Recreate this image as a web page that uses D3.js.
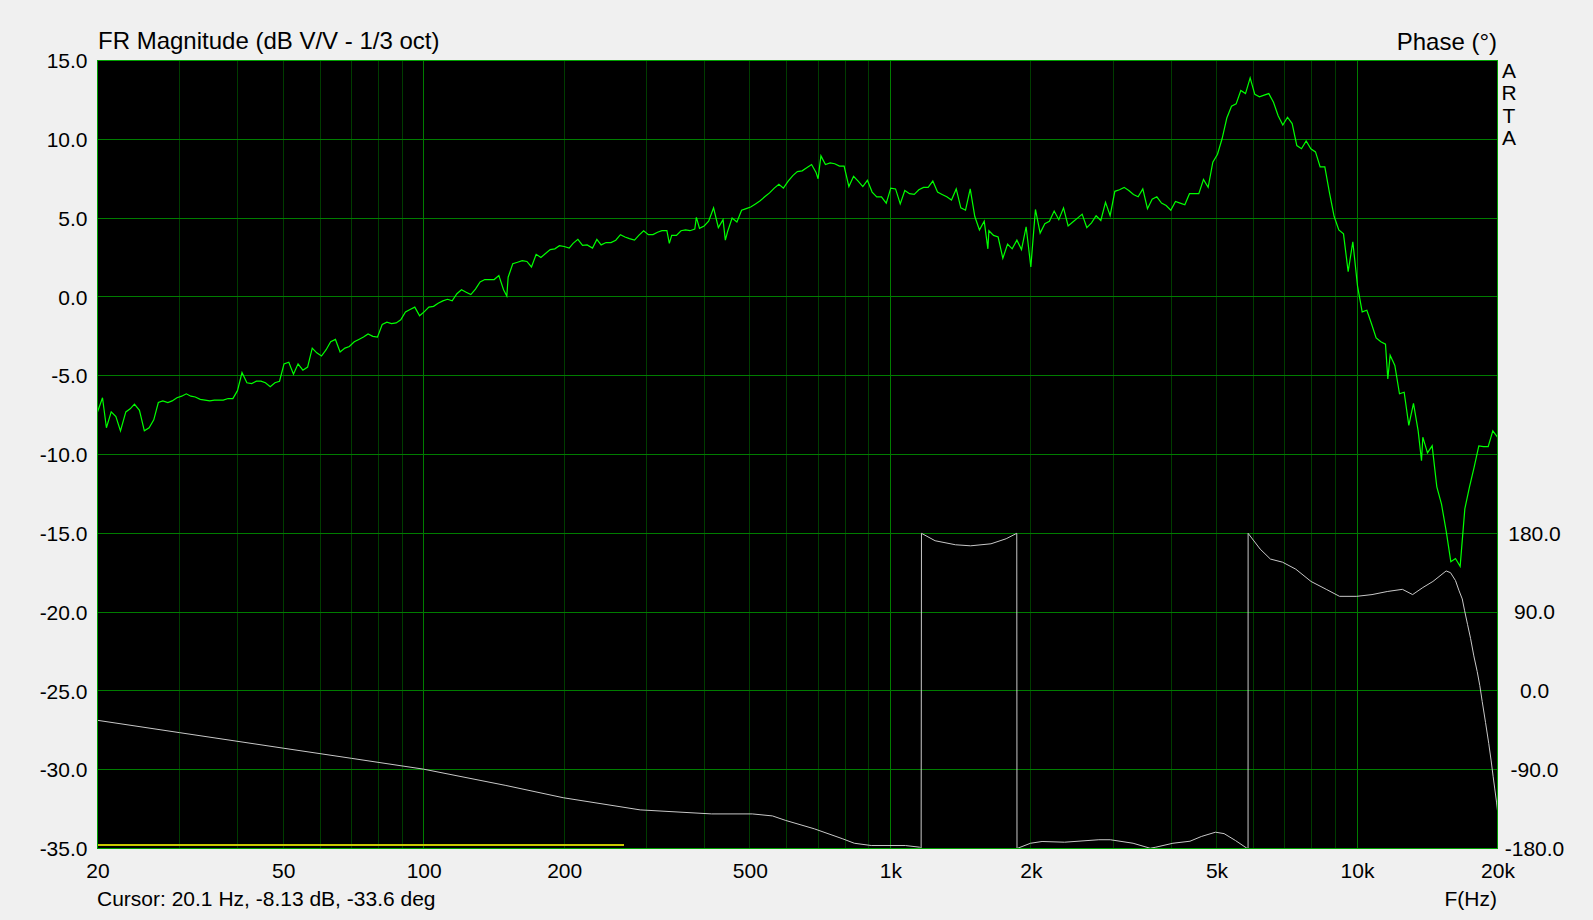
<!DOCTYPE html>
<html><head><meta charset="utf-8">
<script src="https://cdn.jsdelivr.net/npm/d3@7"></script>
<style>
html,body{margin:0;padding:0;background:#f0f0f0;}
svg{display:block;}
text{font-family:"Liberation Sans",Arial,sans-serif;fill:#000;}
</style></head><body>
<svg id="chart" width="1593" height="920"></svg>
<script>
// ---- data ----
const magFreqs = [
20.0,20.5,20.9,21.4,21.9,22.4,23.0,23.5,24.0,24.6,25.2,25.8,26.4,27.0,27.6,28.3,28.9,29.6,30.3,31.0,
31.7,32.4,33.2,34.0,34.8,35.6,36.4,37.2,38.1,39.0,39.9,40.8,41.8,42.8,43.8,44.8,45.8,46.9,48.0,49.1,
50.2,51.4,52.6,53.8,55.1,56.4,57.7,59.0,60.4,61.8,63.2,64.7,66.2,67.8,69.3,71.0,72.6,74.3,76.0,77.8,
79.6,81.5,83.4,85.3,87.3,89.3,91.4,93.5,95.7,98.0,100.2,102.6,105.0,107.4,109.9,112.5,115.1,117.8,120.5,123.3,
126.2,129.1,132.1,135.2,138.4,141.6,144.9,148.3,150.7,151.7,155.2,158.9,162.6,166.4,170.2,174.2,178.3,182.4,186.7,191.0,
195.4,200,205,209,214,219,224,230,235,240,246,252,258,264,270,276,283,289,296,303,
310,317,324,332,336,340,348,356,364,372,381,384,390,399,408,418,428,438,443,448,
458,469,480,491,502,514,526,538,551,564,577,590,604,618,632,647,662,678,693,700,
710,726,743,760,778,796,815,834,853,873,893,914,935,957,980,1002,1026,1050,1074,1099,
1125,1151,1178,1205,1233,1262,1291,1321,1352,1384,1416,1449,1483,1517,1552,1589,1618,1626,1664,1702,
1742,1783,1824,1867,1910,1954,2000,2046,2094,2143,2192,2244,2296,2350,2404,2460,2518,2576,2636,2698,
2760,2825,2891,2958,3027,3097,3170,3243,3319,3396,3475,3556,3639,3724,3811,3899,3990,4083,4178,4276,
4375,4477,4581,4688,4797,4909,5024,5140,5260,5383,5508,5636,5768,5902,6039,6180,6325,6471,6622,6776,
6934,7096,7261,7430,7603,7780,7962,8147,8337,8531,8730,8933,9141,9354,9572,9795,10024,10257,10496,10740,
10990,11247,11508,11641,11776,12051,12331,12619,12912,13213,13521,13746,13836,14158,14488,14825,15171,15524,15886,16255,
16634,17022,17418,17824,18239,18664,19099,19544,20000];
const magDb = [
-7.3,-6.4,-8.3,-7.3,-7.6,-8.5,-7.3,-7.1,-6.8,-7.2,-8.5,-8.3,-7.8,-6.7,-6.6,-6.7,-6.6,-6.4,-6.3,-6.15,
-6.3,-6.35,-6.5,-6.55,-6.6,-6.55,-6.55,-6.55,-6.45,-6.45,-5.95,-4.8,-5.45,-5.5,-5.35,-5.35,-5.45,-5.7,-5.45,-5.35,
-4.25,-4.15,-4.9,-4.25,-4.65,-4.45,-3.25,-3.55,-3.75,-3.35,-2.85,-2.7,-3.5,-3.25,-3.15,-2.85,-2.7,-2.55,-2.35,-2.5,
-2.55,-1.75,-1.6,-1.7,-1.65,-1.45,-0.95,-0.8,-0.65,-1.2,-0.95,-0.65,-0.6,-0.4,-0.25,-0.15,-0.25,0.2,0.45,0.3,
0.15,0.5,0.95,1.1,1.1,1.1,1.35,0.45,0.05,1.25,2.1,2.2,2.3,2.25,1.9,2.7,2.5,2.75,3.0,3.05,
3.25,3.2,3.1,3.4,3.65,3.27,3.3,3.1,3.65,3.3,3.45,3.45,3.6,3.95,3.8,3.7,3.6,3.9,4.2,3.95,
3.95,4.1,4.2,4.2,3.4,3.9,3.9,4.2,4.25,4.2,4.3,5.05,4.35,4.5,4.8,5.65,4.4,4.9,3.6,4.15,
5.0,4.75,5.5,5.6,5.7,5.9,6.1,6.35,6.6,6.9,7.15,6.9,7.35,7.7,7.95,8.0,8.2,8.4,7.9,7.5,
8.95,8.4,8.5,8.45,8.3,8.3,7.0,7.65,7.35,7.0,7.4,6.65,6.35,6.35,5.95,6.9,6.85,5.9,6.75,6.55,
6.5,6.8,6.95,6.95,7.35,6.65,6.5,6.35,6.15,6.85,5.65,5.5,6.85,5.1,4.25,4.8,3.05,4.2,3.9,3.8,
2.45,3.35,3.05,3.6,3.0,4.45,1.9,5.55,4.05,4.65,4.8,5.45,4.9,5.65,4.5,4.75,5.0,5.25,4.4,4.7,
5.15,4.85,6.0,5.15,6.7,6.8,6.95,6.75,6.5,6.35,6.85,5.6,6.2,6.35,5.95,5.8,5.5,6.05,5.95,5.85,
6.55,6.55,6.55,7.45,6.95,8.55,9.05,10.05,11.35,12.1,12.25,13.1,12.9,13.9,12.85,12.7,12.8,12.9,12.35,11.5,
10.9,11.4,11.0,9.6,9.4,9.9,9.4,9.2,8.25,8.25,6.6,5.1,4.25,4.0,1.6,3.5,0.7,-0.95,-0.85,-1.7,
-2.6,-2.85,-3.0,-5.2,-3.7,-4.35,-6.15,-6.05,-8.15,-6.75,-8.5,-10.4,-8.9,-9.9,-9.45,-12.05,-13.15,-14.85,-16.8,-16.6,
-17.1,-13.45,-12.05,-10.8,-9.45,-9.5,-9.5,-8.5,-8.9];

const phaseFreqs = [20,30,50,70,100,150,199,291,414,506,559,597,687,791,837,910,1077,1155,1164,
1166,1247,1379,1486,1643,1771,1866,
1868,1997,2114,2362,2798,2960,3312,3604,3706,4032,4386,4638,4973,5190,5490,5808,5841,
5843,6200,6522,6926,7393,7970,8591,9172,9986,10768,11606,12510,13156,13834,14542,15523,15862,
16257,16528,16808,16998,17250,17510,17794,18096,18330,18546,18852,19154,19386,19576,19734,19904,20000];
const phaseDeg = [-33.6,-47.7,-65.4,-77,-89.4,-108,-122,-135.9,-140.5,-140.5,-142.8,-148,-157.5,-169,-174,-176.6,-176.6,-178.5,-180,
180,171.5,166.9,165.7,168,173.8,180,
-180,-174,-172,-172.8,-170,-170,-174,-179.7,-178.5,-174,-171.7,-166.3,-161.4,-163,-170.9,-179.7,-180,
180,162,150.6,147,139,125,116,108,108,110,113.5,116,110,118,125,137,135,
126,115,105,92,76,60,40,22,6,-12,-36,-60,-80,-98,-112,-127,-137];

const windowFreqs = [20, 269];
const windowLevel = -34.8;

const xMinorGrid = [30,40,50,60,70,80,90,200,300,400,500,600,700,800,900,2000,3000,4000,5000,6000,7000,8000,9000];
const xMajorGrid = [100,1000,10000];
const xTickValues = [20,50,100,200,500,1000,2000,5000,10000,20000];
const xTickLabels = ["20","50","100","200","500","1k","2k","5k","10k","20k"];
const yTickValues = [15,10,5,0,-5,-10,-15,-20,-25,-30,-35];
const phaseTickValues = [180,90,0,-90,-180];
const titleLeft = "FR Magnitude (dB V/V - 1/3 oct)";
const titleRight = "Phase (°)";
const brand = ["A","R","T","A"];
const cursorText = "Cursor: 20.1 Hz, -8.13 dB, -33.6 deg";
const xAxisTitle = "F(Hz)";

// ---- layout ----
const L = 97.5, R = 1497.5, T = 60.5, B = 848.5;
const svg = d3.select("#chart");
const x = d3.scaleLog().domain([20, 20000]).range([L, R]);
const y = d3.scaleLinear().domain([-35, 15]).range([B, T]);
const yPh = d3.scaleLinear().domain([-180, 180]).range([B, y(-15)]);
const snap = v => Math.round(v - 0.5) + 0.5;

svg.append("rect").attr("x", L - 0.5).attr("y", T - 0.5).attr("width", R - L + 1).attr("height", B - T + 1).attr("fill", "#000");

const grid = svg.append("g").attr("shape-rendering", "crispEdges");
grid.selectAll("line.minor").data(xMinorGrid).join("line").attr("class", "minor")
  .attr("x1", d => snap(x(d))).attr("x2", d => snap(x(d))).attr("y1", T).attr("y2", B)
  .attr("stroke", "#003c00").attr("stroke-width", 1);
grid.selectAll("line.major").data(xMajorGrid).join("line").attr("class", "major")
  .attr("x1", d => snap(x(d))).attr("x2", d => snap(x(d))).attr("y1", T).attr("y2", B)
  .attr("stroke", "#007c00").attr("stroke-width", 1);
grid.selectAll("line.h").data(yTickValues.slice(1, -1)).join("line").attr("class", "h")
  .attr("x1", L).attr("x2", R).attr("y1", d => snap(y(d))).attr("y2", d => snap(y(d)))
  .attr("stroke", "#007c00").attr("stroke-width", 1);

const clip = svg.append("clipPath").attr("id", "plotclip").append("rect")
  .attr("x", L - 0.5).attr("y", T - 0.5).attr("width", R - L + 1).attr("height", B - T + 1);
const plot = svg.append("g").attr("clip-path", "url(#plotclip)");

// yellow window line
plot.append("line")
  .attr("x1", x(windowFreqs[0])).attr("x2", x(windowFreqs[1]))
  .attr("y1", y(windowLevel)).attr("y2", y(windowLevel))
  .attr("stroke", "#c8c800").attr("stroke-width", 2).attr("shape-rendering", "crispEdges");

// phase
const phaseData = phaseFreqs.map((f, i) => ({f, v: phaseDeg[i]}));
plot.append("path").datum(phaseData)
  .attr("d", d3.line().x(d => x(d.f)).y(d => yPh(d.v)))
  .attr("fill", "none").attr("stroke", "#c8c8c8").attr("stroke-width", 1);

// magnitude
const magData = magFreqs.map((f, i) => ({f, v: magDb[i]}));
plot.append("path").datum(magData)
  .attr("d", d3.line().x(d => x(d.f)).y(d => y(d.v)))
  .attr("fill", "none").attr("stroke", "#00ff00").attr("stroke-width", 1.2);

// border
svg.append("rect").attr("x", L).attr("y", T).attr("width", R - L).attr("height", B - T)
  .attr("fill", "none").attr("stroke", "#00a000").attr("stroke-width", 1).attr("shape-rendering", "crispEdges");

// axes
const fontFam = '"Liberation Sans", Arial, sans-serif';
const gl = svg.append("g").attr("transform", `translate(${L},0)`)
  .call(d3.axisLeft(y).tickValues(yTickValues).tickFormat(d => d.toFixed(1)).tickSize(0).tickPadding(10));
gl.select(".domain").remove();
gl.attr("font-size", 21).attr("font-family", fontFam);
gl.selectAll("text").attr("fill", "#000").attr("dy", "0.34em");

const gb = svg.append("g").attr("transform", `translate(0,${B})`)
  .call(d3.axisBottom(x).tickValues(xTickValues).tickFormat((d, i) => xTickLabels[i]).tickSize(0).tickPadding(15));
gb.select(".domain").remove();
gb.attr("font-size", 21).attr("font-family", fontFam);
gb.selectAll("text").attr("fill", "#000");

const gr = svg.append("g").attr("transform", `translate(${R},0)`)
  .call(d3.axisRight(yPh).tickValues(phaseTickValues).tickFormat(d => d.toFixed(1)).tickSize(0));
gr.select(".domain").remove();
gr.attr("font-size", 21).attr("font-family", fontFam);
gr.selectAll("text").attr("fill", "#000").attr("x", 37).attr("text-anchor", "middle").attr("dy", "0.32em");

// titles
svg.append("text").attr("x", 98).attr("y", 49).attr("font-size", 24).text(titleLeft);
svg.append("text").attr("x", 1497).attr("y", 50).attr("font-size", 24).attr("text-anchor", "end").text(titleRight);
svg.selectAll("text.brand").data(brand).join("text").attr("class", "brand")
  .attr("x", 1509).attr("y", (d, i) => 78 + i * 22.4).attr("font-size", 21).attr("text-anchor", "middle").text(d => d);
svg.append("text").attr("x", 97).attr("y", 906).attr("font-size", 21).text(cursorText);
svg.append("text").attr("x", 1497).attr("y", 906).attr("font-size", 21).attr("text-anchor", "end").text(xAxisTitle);
</script>
</body></html>
